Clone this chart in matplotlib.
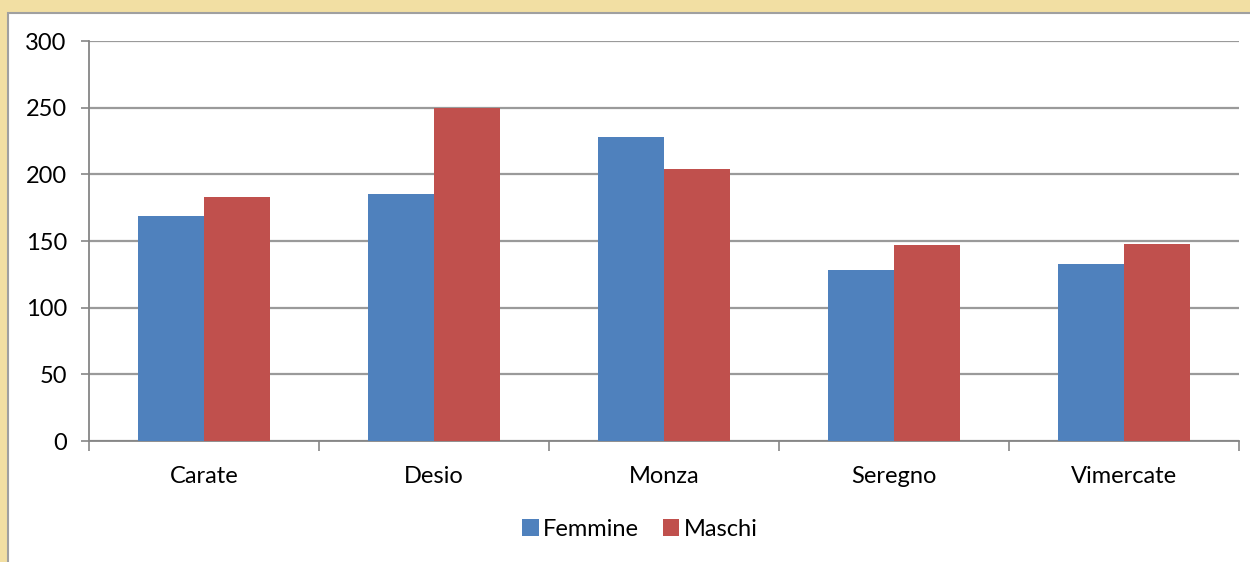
import matplotlib
matplotlib.use("Agg")
import matplotlib.pyplot as plt
from matplotlib.patches import Rectangle
import numpy as np

# values
cities = ['Carate', 'Desio', 'Monza', 'Seregno', 'Vimercate']
femmine = [169, 185, 228, 128, 133]
maschi = [183, 250, 204, 147, 148]
yticks = [0, 50, 100, 150, 200, 250, 300]

W, H = 1250, 562
plt.rcParams['font.family'] = ['Lato', 'DejaVu Sans']

fig = plt.figure(figsize=(W / 100, H / 100), dpi=100)
fig.patch.set_facecolor('#f2dfa3')

# white panel behind the chart
panel = Rectangle((8 / W, -0.05), 1.1, (H - 13) / H + 0.05,
                  transform=fig.transFigure, facecolor='white',
                  edgecolor='#a0a0a0', linewidth=1.5, zorder=-10)
fig.patches.append(panel)

ax = fig.add_axes([89 / W, (H - 441) / H, 1150 / W, 400 / H])
ax.set_facecolor('none')

x = np.arange(len(cities))
w = 0.287
ax.bar(x - w / 2, femmine, w, color='#4f81bd', label='Femmine', zorder=3)
ax.bar(x + w / 2, maschi, w, color='#c0504d', label='Maschi', zorder=3)

ax.set_xlim(-0.5, len(cities) - 0.5)
ax.set_ylim(0, 300)
ax.set_yticks(yticks)
ax.set_yticklabels([str(v) for v in yticks], fontsize=17)
ax.yaxis.grid(True, color='#9a9a9a', linewidth=1.6, zorder=0)
ax.set_axisbelow(True)

ax.set_xticks(x)
ax.set_xticklabels(cities, fontsize=17)
ax.set_xticks(np.arange(-0.5, len(cities)), minor=True)
ax.tick_params(axis='x', which='major', length=0, pad=18)
ax.tick_params(axis='x', which='minor', length=7, color='#868686', width=1.2)
ax.tick_params(axis='y', length=6, color='#868686', width=1.2, pad=10)

for s in ('top', 'right'):
    ax.spines[s].set_visible(False)
for s in ('left', 'bottom'):
    ax.spines[s].set_color('#868686')
    ax.spines[s].set_linewidth(1.3)

fig.legend(loc='center', bbox_to_anchor=(640 / W, 1 - 529 / H), ncol=2,
           frameon=False, fontsize=17, handlelength=0.7, handleheight=0.7,
           handletextpad=0.2, columnspacing=1.0)

fig.savefig('out.png', dpi=100, facecolor=fig.get_facecolor())
